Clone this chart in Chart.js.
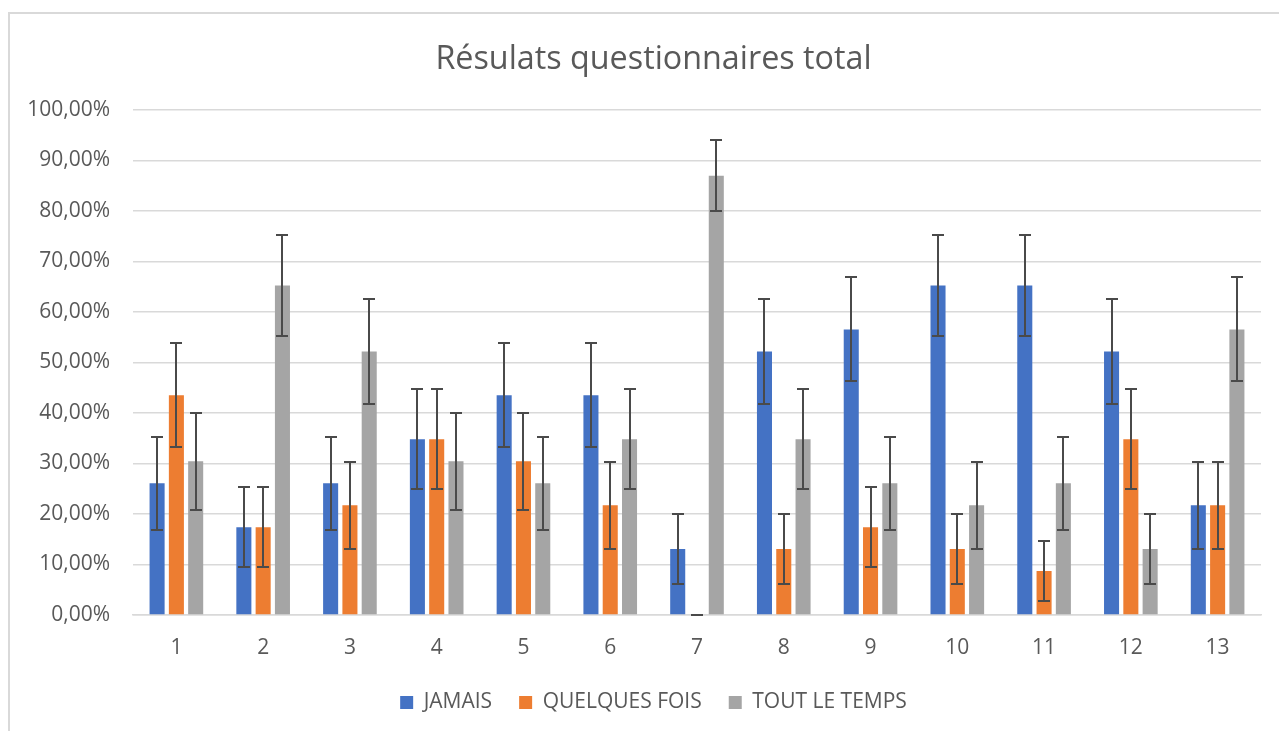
<!DOCTYPE html>
<html>
<head>
<meta charset="utf-8">
<script src="https://cdn.jsdelivr.net/npm/chart.js@4"></script>
<style>
  html, body { margin: 0; padding: 0; background: #fff; overflow: hidden; }
  #frame {
    position: absolute; left: 8px; top: 12px;
    width: 1300px; height: 760px;
    border: 2px solid #d9d9d9; box-sizing: border-box;
  }
  #wrap { position: absolute; left: 0; top: 0; width: 1279px; height: 731px; }
</style>
</head>
<body>
<div id="frame"></div>
<div id="wrap"><canvas id="chart" width="1279" height="731"></canvas></div>
<script>
const questions = ['1', '2', '3', '4', '5', '6', '7', '8', '9', '10', '11', '12', '13'];

// percentages per answer
const jamais       = [26.09, 17.39, 26.09, 34.78, 43.48, 43.48, 13.04, 52.17, 56.52, 65.22, 65.22, 52.17, 21.74];
const quelquesFois = [43.48, 17.39, 21.74, 34.78, 30.43, 21.74, 0, 13.04, 17.39, 13.04, 8.70, 34.78, 21.74];
const toutLeTemps  = [30.43, 65.22, 52.17, 30.43, 26.09, 34.78, 86.96, 34.78, 26.09, 21.74, 26.09, 13.04, 56.52];

// error bar half-lengths (percentage points)
const errJamais       = [9.2, 7.9, 9.2, 9.9, 10.3, 10.3, 7.0, 10.4, 10.3, 9.9, 9.9, 10.4, 8.6];
const errQuelquesFois = [10.3, 7.9, 8.6, 9.9, 9.6, 8.6, 0, 7.0, 7.9, 7.0, 5.9, 9.9, 8.6];
const errToutLeTemps  = [9.6, 9.9, 10.4, 9.6, 9.2, 9.9, 7.0, 9.9, 9.2, 8.6, 9.2, 7.0, 10.3];

const yTicks = [0, 10, 20, 30, 40, 50, 60, 70, 80, 90, 100];

const textColor = '#595959';
const gridColor = '#d9d9d9';
const font = "'Open Sans', sans-serif";

// draws the +/- error bars with caps on top of every bar
const errorBars = {
    id: 'errorBars',
    afterDatasetsDraw(chart) {
        const ctx = chart.ctx;
        const y = chart.scales.y;
        ctx.save();
        ctx.strokeStyle = '#4a4a4a';
        ctx.lineWidth = 2;
        chart.data.datasets.forEach((ds, i) => {
            const meta = chart.getDatasetMeta(i);
            meta.data.forEach((bar, j) => {
                const v = ds.data[j];
                const e = ds.errors[j];
                const top = Math.round(y.getPixelForValue(v + e));
                const bot = Math.round(y.getPixelForValue(v - e));
                const x = Math.round(bar.x);
                ctx.beginPath();
                ctx.moveTo(x, top);
                ctx.lineTo(x, bot);
                ctx.moveTo(x - 6, top);
                ctx.lineTo(x + 6, top);
                ctx.moveTo(x - 6, bot);
                ctx.lineTo(x + 6, bot);
                ctx.stroke();
            });
        });
        ctx.restore();
    }
};

// title and legend are centred on the whole frame, not just the canvas
const centreOnFrame = {
    id: 'centreOnFrame',
    afterLayout(chart) {
        [chart.titleBlock, chart.legend].forEach(box => {
            if (!box) return;
            box.left += 10;
            box.right += 10;
        });
    }
};

const ctx = document.getElementById('chart').getContext('2d');

new Chart(ctx, {
    type: 'bar',
    data: {
        labels: questions,
        datasets: [
            { label: 'JAMAIS', data: jamais, errors: errJamais, backgroundColor: '#4472c4' },
            { label: 'QUELQUES FOIS', data: quelquesFois, errors: errQuelquesFois, backgroundColor: '#ed7d31' },
            { label: 'TOUT LE TEMPS', data: toutLeTemps, errors: errToutLeTemps, backgroundColor: '#a5a5a5' }
        ]
    },
    options: {
        responsive: false,
        animation: false,
        categoryPercentage: 0.667,
        barPercentage: 0.78,
        layout: { padding: { left: 26, right: 18, top: 13, bottom: 8 } },
        plugins: {
            title: {
                display: true,
                text: 'Résulats questionnaires total',
                color: textColor,
                font: { family: font, size: 32.3, weight: 'normal' },
                padding: { top: 27, bottom: 31 }
            },
            legend: {
                position: 'bottom',
                labels: {
                    color: textColor,
                    boxWidth: 13,
                    boxHeight: 13,
                    padding: 27,
                    font: { family: font, size: 21 }
                }
            },
            tooltip: { enabled: false }
        },
        scales: {
            x: {
                afterFit(scale) { scale.height = 50; },
                grid: { display: false, drawTicks: false },
                border: { display: true, color: gridColor, width: 1.5 },
                ticks: {
                    color: textColor,
                    padding: 20,
                    font: { family: font, size: 21 }
                }
            },
            y: {
                min: 0,
                max: 100,
                afterFit(scale) { scale.width = 107; },
                afterBuildTicks(scale) { scale.ticks = yTicks.map(v => ({ value: v })); },
                grid: { color: gridColor, lineWidth: 1.5, drawTicks: false },
                border: { display: false },
                ticks: {
                    color: textColor,
                    padding: 23,
                    font: { family: font, size: 21 },
                    callback: v => v.toFixed(2).replace('.', ',') + '%'
                }
            }
        }
    },
    plugins: [errorBars, centreOnFrame]
});
</script>
</body>
</html>
